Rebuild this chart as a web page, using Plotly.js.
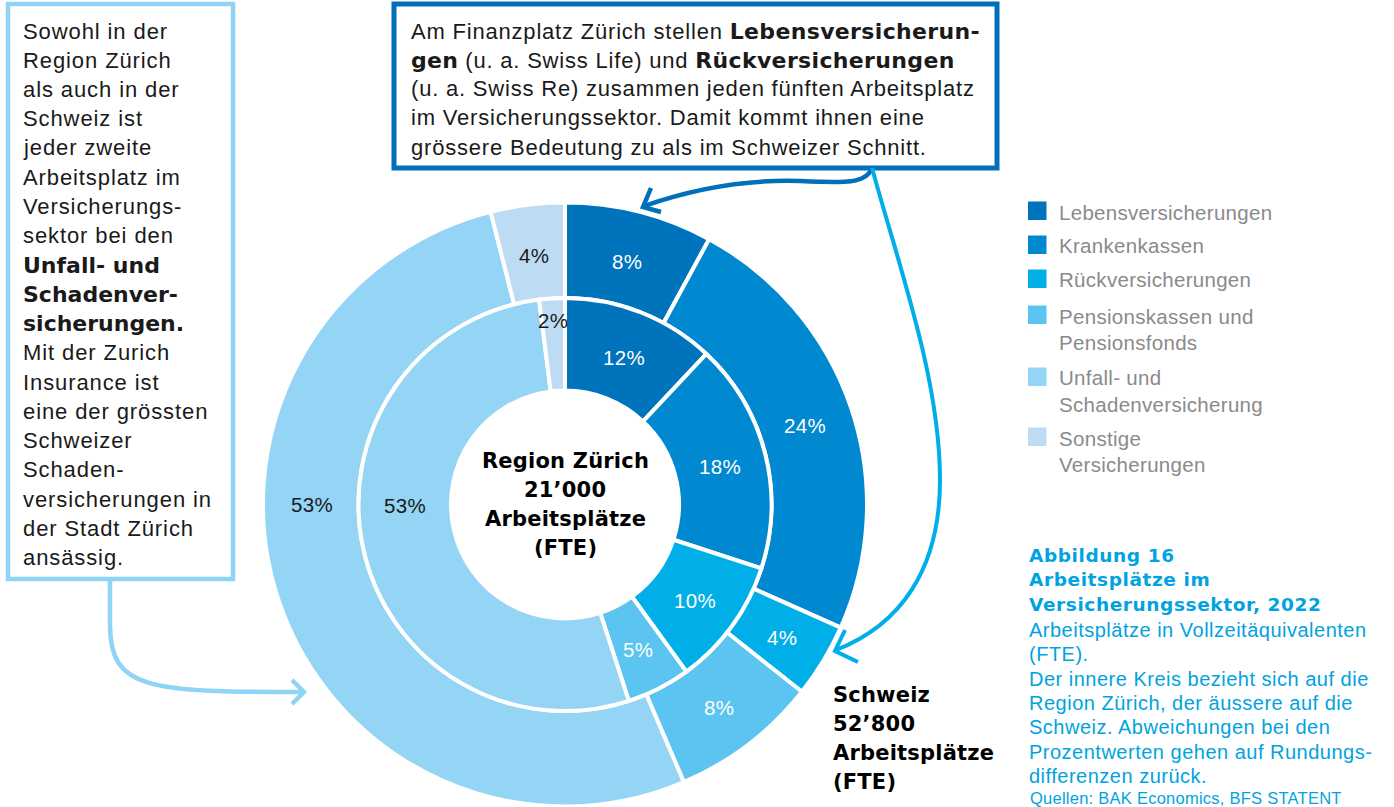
<!DOCTYPE html>
<html><head><meta charset="utf-8">
<script src="https://cdn.plot.ly/plotly-3.0.1.min.js"></script>
<style>html,body{margin:0;padding:0;background:#fff;overflow:hidden}#chart{width:1394px;height:807px}</style>
</head><body><div id="chart"></div>
<script>
// ---------- data ----------
const categories = ['Lebensversicherungen','Krankenkassen','Rückversicherungen','Pensionskassen und Pensionsfonds','Unfall- und Schadenversicherung','Sonstige Versicherungen'];
const legendLines = [['Lebensversicherungen'],['Krankenkassen'],['Rückversicherungen'],['Pensionskassen und','Pensionsfonds'],['Unfall- und','Schadenversicherung'],['Sonstige','Versicherungen']];
const schweizValues = [8,24,4,8,53,4];   // outer ring, %
const zuerichValues = [12,18,10,5,53,2]; // inner ring, %
const sliceColors = ['#0073BD','#0089D0','#00AFE8','#5BC4F1','#94D4F5','#BDDCF4'];
const labelColors = ['#ffffff','#ffffff','#ffffff','#ffffff','#1a1a1a','#1a1a1a'];

const leftBoxLines = ['Sowohl in der','Region Zürich','als auch in der','Schweiz ist','jeder zweite','Arbeitsplatz im','Versicherungs-','sektor bei den','**Unfall- und**','**Schadenver-**','**sicherungen.**','Mit der Zurich','Insurance ist','eine der grössten','Schweizer','Schaden-','versicherungen in','der Stadt Zürich','ansässig.'];
const topBoxLines = ['Am Finanzplatz Zürich stellen **Lebensversicherun-**','**gen** (u. a. Swiss Life) und **Rückversicherungen**','(u. a. Swiss Re) zusammen jeden fünften Arbeitsplatz','im Versicherungssektor. Damit kommt ihnen eine','grössere Bedeutung zu als im Schweizer Schnitt.'];
const centerLines = ['Region Zürich','21’000','Arbeitsplätze','(FTE)'];
const schweizLines = ['Schweiz','52’800','Arbeitsplätze','(FTE)'];
const captionBold = ['Abbildung 16','Arbeitsplätze im','Versicherungssektor, 2022'];
const captionLines = ['Arbeitsplätze in Vollzeitäquivalenten','(FTE).','Der innere Kreis bezieht sich auf die','Region Zürich, der äussere auf die','Schweiz. Abweichungen bei den','Prozentwerten gehen auf Rundungs-','differenzen zurück.'];
const sourceLine = 'Quellen: BAK Economics, BFS STATENT';

// ---------- geometry helpers ----------
const W = 1394, H = 807;
const px = x => x / W, py = y => 1 - y / H;
const CX = 565, CY = 504.5;
const R_OUT = 302, R_MID = 206.5, R_HOLE = 114;
function dom(r){ return {x:[px(CX-r), px(CX+r)], y:[py(CY+r), py(CY-r)]}; }

const REG = 'Liberation Sans, Arial, sans-serif';
function md(s, regLS, boldLS){
  return s.split(/(\*\*.+?\*\*)/).filter(x=>x).map(seg=>{
    if (seg.startsWith('**')) {
      return `<span style="font-family:'DejaVu Sans';font-weight:bold;letter-spacing:${boldLS||0}px">${seg.slice(2,-2)}</span>`;
    }
    return regLS ? `<span style="letter-spacing:${regLS}px">${seg}</span>` : seg;
  }).join('');
}

function lineAnn(text, x, y, size, color, anchor, regLS, boldLS){
  return {xref:'paper', yref:'paper', x:px(x), y:py(y), xanchor:anchor||'left', yanchor:'middle',
    text:md(text, regLS, boldLS), showarrow:false, font:{family:REG, size:size, color:color}};
}

const traces = [
  {type:'pie', values:schweizValues, labels:categories, sort:false, direction:'clockwise', rotation:0,
   hole:R_MID/R_OUT, domain:dom(R_OUT), textinfo:'none', hoverinfo:'label+value',
   marker:{colors:sliceColors, line:{color:'#ffffff', width:4}}, showlegend:false},
  {type:'pie', values:zuerichValues, labels:categories, sort:false, direction:'clockwise', rotation:0,
   hole:R_HOLE/R_MID, domain:dom(R_MID), textinfo:'none', hoverinfo:'label+value',
   marker:{colors:sliceColors, line:{color:'#ffffff', width:4}}, showlegend:false}
];

const annotations = [];
// slice value labels, positioned from the data (cumulative angles)
function ringLabels(values, rIn, rOut, radialOverride){
  const total = values.reduce((a,b)=>a+b,0);
  let cum = 0;
  values.forEach((v,i)=>{
    let ang = (cum + v/2)/total*360;
    cum += v;
    let r = (rIn + rOut)/2;
    if (i === 4) ang = 270.5;              // large slice: label at 9 o'clock
    if (radialOverride && radialOverride[i]) r = radialOverride[i];
    const a = ang*Math.PI/180;
    const x = CX + r*Math.sin(a), y = CY - r*Math.cos(a) + 2;
    annotations.push({xref:'paper', yref:'paper', x:px(x), y:py(y), xanchor:'center', yanchor:'middle',
      text: `<span style="letter-spacing:0.4px">${v}%</span>`, showarrow:false, font:{family:REG, size:20.5, color:labelColors[i]}});
  });
}
ringLabels(schweizValues, R_MID, R_OUT - 2);
ringLabels(zuerichValues, R_HOLE, R_MID, {5: 186});

// center and Schweiz texts
centerLines.forEach((t,i)=>annotations.push(lineAnn('**'+t+'**', CX, 461 + i*29, 21, '#000', 'center', 0, 0.2)));
schweizLines.forEach((t,i)=>annotations.push(lineAnn('**'+t+'**', 831, 695 + i*29, 21, '#000', 'left', 0, 0.2)));

// left box
leftBoxLines.forEach((t,i)=>annotations.push(lineAnn(t, 21, 31 + i*29.25, 22, '#1a1a1a', 'left', 0.9, 0)));
// top box
topBoxLines.forEach((t,i)=>annotations.push(lineAnn(t, 409, 31 + i*29, 22, '#1a1a1a', 'left', 0.8, 0.35)));

// legend
const legendRowY = [211, 245, 279, 315, 377, 437];
const shapes = [];
legendLines.forEach((lines,i)=>{
  const y = legendRowY[i];
  shapes.push({type:'rect', xref:'paper', yref:'paper', x0:px(1028), x1:px(1046.5), y0:py(y-9.5), y1:py(y+9), fillcolor:sliceColors[i], line:{width:0}});
  lines.forEach((t,j)=>annotations.push(lineAnn(t, 1057, y + 1 + j*26, 20.5, '#8a8a8a', 'left', 0.3)));
});

// caption
captionBold.forEach((t,i)=>annotations.push(lineAnn('**'+t+'**', 1027, 555 + i*24.5, 18.5, '#00A3E0', 'left', 0, 0.6)));
captionLines.forEach((t,i)=>annotations.push(lineAnn(t, 1027, 630 + i*24.3, 20, '#00A3E0', 'left', 0.5)));
annotations.push(lineAnn(sourceLine, 1028, 798, 16.5, '#00A3E0', 'left', 0.25));

// callout boxes
shapes.push({type:'rect', xref:'paper', yref:'paper', x0:px(8), x1:px(233), y0:py(579), y1:py(4), line:{color:'#8FD3F5', width:4.5}, fillcolor:'rgba(0,0,0,0)', layer:'below'});
shapes.push({type:'rect', xref:'paper', yref:'paper', x0:px(394), x1:px(997), y0:py(168), y1:py(4), line:{color:'#0070BB', width:5}, fillcolor:'rgba(0,0,0,0)', layer:'below'});

// arrows (paths in pixel coords converted to paper coords)
function path(cmds){
  return cmds.replace(/(-?\d+\.?\d*),(-?\d+\.?\d*)/g, (m,a,b)=>px(+a).toFixed(5)+','+py(+b).toFixed(5));
}
function arrow(d, color, w){ shapes.push({type:'path', xref:'paper', yref:'paper', path:path(d), line:{color:color, width:w}, layer:'above'}); }
// left box -> outer Unfall ring
arrow('M110,579 L110,625 C110,690 150,692 303,692', '#8FD3F5', 4.5);
arrow('M292,680 L304,692 L292,704', '#8FD3F5', 4.5);
// top box -> Lebensversicherungen
arrow('M872,168 C866,184 845,183 800,181 C740,179 690,190 644,206', '#0070BB', 4.5);
arrow('M651,188 L643,207 L661,212', '#0070BB', 4.5);
// top box -> Rückversicherungen
arrow('M872,168 C900,270 940,380 940,480 C940,570 900,625 836,650', '#00AEEA', 4);
arrow('M845,630 L835,651 L858,662', '#00AEEA', 4);

const layout = {
  width:W, height:H, margin:{l:0,r:0,t:0,b:0}, paper_bgcolor:'#fff', plot_bgcolor:'#fff',
  showlegend:false, annotations:annotations, shapes:shapes, font:{family:REG}
};
Plotly.newPlot('chart', traces, layout, {displayModeBar:false, staticPlot:true});
</script>
</body></html>
